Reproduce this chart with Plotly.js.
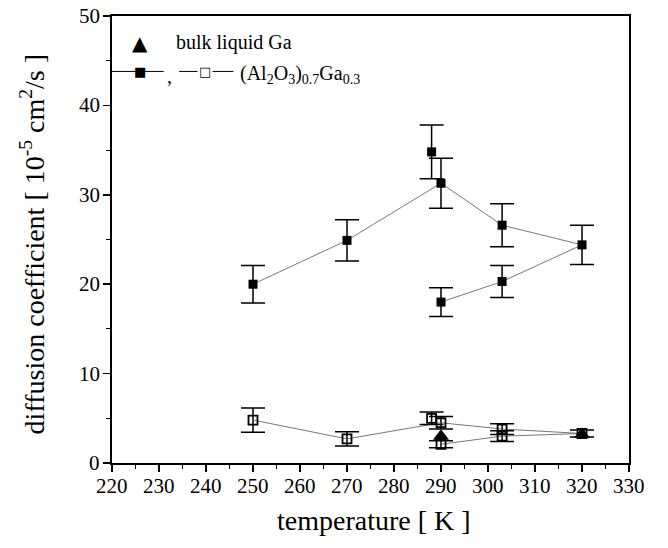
<!DOCTYPE html>
<html><head><meta charset="utf-8">
<script src="https://cdn.plot.ly/plotly-3.0.1.min.js"></script>
<style>body{margin:0;background:#fff}#chart{width:668px;height:548px}</style>
</head><body><div id="chart"></div>
<script>
// Filled squares (connected path)
const filledT = [250, 270, 290, 303, 320, 303, 290];
const filledD = [20.0, 24.9, 31.3, 26.6, 24.4, 20.3, 18.0];
const filledErr = [2.1, 2.3, 2.8, 2.4, 2.2, 1.8, 1.6];
// Filled square, isolated point
const filledIsoT = [288];
const filledIsoD = [34.8];
const filledIsoErr = [3.0];
// Open squares (connected path)
const openT = [250, 270, 290, 303, 320, 303, 290];
const openD = [4.8, 2.7, 4.5, 3.8, 3.3, 3.0, 2.1];
const openErr = [1.35, 0.8, 0.7, 0.6, 0.4, 0.6, 0.4];
// Open square, isolated point
const openIsoT = [288];
const openIsoD = [5.0];
const openIsoErr = [0.7];
// Bulk liquid Ga
const bulkT = [290, 320];
const bulkD = [3.0, 3.2];
// Axis ranges and tick labels
const xRange = [220, 330];
const yRange = [0, 50];
const xTicks = [220, 230, 240, 250, 260, 270, 280, 290, 300, 310, 320, 330];
const yTicks = [0, 10, 20, 30, 40, 50];

const serif = 'Liberation Serif';
const eb = (arr) => ({type: 'data', array: arr, visible: true, color: '#000', thickness: 1.5, width: 12});

const traces = [
  {x: filledT, y: filledD, error_y: eb(filledErr), mode: 'lines+markers', type: 'scatter',
   line: {color: '#555', width: 0.8},
   marker: {symbol: 'square', size: 9, color: '#000'}},
  {x: filledIsoT, y: filledIsoD, error_y: eb(filledIsoErr), mode: 'markers', type: 'scatter',
   marker: {symbol: 'square', size: 9, color: '#000'}},
  {x: openT, y: openD, error_y: eb(openErr), mode: 'lines+markers', type: 'scatter',
   line: {color: '#555', width: 0.8},
   marker: {symbol: 'square-open', size: 9, color: '#000', line: {width: 1.8}}},
  {x: openIsoT, y: openIsoD, error_y: eb(openIsoErr), mode: 'markers', type: 'scatter',
   marker: {symbol: 'square-open', size: 9, color: '#000', line: {width: 1.8}}},
  {x: bulkT, y: bulkD, mode: 'markers', type: 'scatter',
   marker: {symbol: 'triangle-up', size: 14, color: '#000'}}
];

const tickFont = {family: serif, size: 21, color: '#000'};
const tickAnns = [];
xTicks.forEach(v => tickAnns.push({xref: 'x', yref: 'paper', x: v, y: 0, yshift: -9,
  text: String(v), showarrow: false, xanchor: 'center', yanchor: 'top', font: tickFont}));
yTicks.forEach(v => tickAnns.push({xref: 'paper', yref: 'y', x: 0, y: v, xshift: -10,
  text: String(v), showarrow: false, xanchor: 'right', yanchor: 'middle', font: tickFont}));

const layout = {
  width: 668, height: 548,
  margin: {l: 112, r: 39, t: 16, b: 85},
  paper_bgcolor: '#fff', plot_bgcolor: '#fff',
  showlegend: false,
  font: {family: serif, color: '#000', size: 20},
  xaxis: {
    range: xRange, tickmode: 'array', tickvals: xTicks, showticklabels: false,
    showgrid: false, zeroline: false,
    showline: true, linewidth: 2, linecolor: '#000', mirror: true,
    ticks: 'outside', ticklen: 7, tickwidth: 1.5, tickcolor: '#000',
    minor: {dtick: 5, tick0: 220, ticks: 'outside', ticklen: 4, tickwidth: 1.2, tickcolor: '#000', showgrid: false}
  },
  yaxis: {
    range: yRange, tickmode: 'array', tickvals: yTicks, showticklabels: false,
    showgrid: false, zeroline: false,
    showline: true, linewidth: 2, linecolor: '#000', mirror: true,
    ticks: 'outside', ticklen: 7, tickwidth: 1.5, tickcolor: '#000',
    minor: {dtick: 5, tick0: 0, ticks: 'outside', ticklen: 4, tickwidth: 1.2, tickcolor: '#000', showgrid: false}
  },
  shapes: [
    {type: 'line', xref: 'paper', yref: 'paper', x0: 0, x1: 0.1, y0: 0.876, y1: 0.876,
     line: {color: '#000', width: 1}},
    {type: 'line', xref: 'paper', yref: 'paper', x0: 0.13, x1: 0.235, y0: 0.876, y1: 0.876,
     line: {color: '#000', width: 1}}
  ],
  annotations: tickAnns.concat([
    {xref: 'paper', yref: 'paper', x: 0.507, y: -0.128, text: 'temperature [ K ]', showarrow: false,
     font: {family: serif, size: 28, color: '#000'}, xanchor: 'center', yanchor: 'middle'},
    {xref: 'paper', yref: 'paper', x: -0.152, y: 0.49, textangle: -90,
     text: 'diffusion coefficient [ 10<sup>-5</sup> cm<sup>2</sup>/s ]', showarrow: false,
     font: {family: serif, size: 28, color: '#000'}, xanchor: 'center', yanchor: 'middle'},
    {xref: 'paper', yref: 'paper', x: 0.054, y: 0.94, text: '▲', showarrow: false,
     font: {family: 'DejaVu Sans', size: 20, color: '#000'}, xanchor: 'center', yanchor: 'middle'},
    {xref: 'paper', yref: 'paper', x: 0.12, y: 0.94, text: 'bulk liquid Ga', showarrow: false,
     font: {family: serif, size: 20, color: '#000'}, xanchor: 'left', yanchor: 'middle'},
    {xref: 'paper', yref: 'paper', x: 0.054, y: 0.876, text: '■', showarrow: false,
     font: {family: 'DejaVu Sans', size: 13, color: '#000'}, xanchor: 'center', yanchor: 'middle'},
    {xref: 'paper', yref: 'paper', x: 0.103, y: 0.866, text: ',', showarrow: false,
     font: {family: serif, size: 20, color: '#000'}, xanchor: 'left', yanchor: 'middle'},
    {xref: 'paper', yref: 'paper', x: 0.18, y: 0.876, text: '□', showarrow: false,
     font: {family: 'DejaVu Sans', size: 13, color: '#000'}, xanchor: 'center', yanchor: 'middle', bgcolor: '#fff'},
    {xref: 'paper', yref: 'paper', x: 0.243, y: 0.87, text: '(Al<sub>2</sub>O<sub>3</sub>)<sub>0.7</sub>Ga<sub>0.3</sub>', showarrow: false,
     font: {family: serif, size: 20, color: '#000'}, xanchor: 'left', yanchor: 'middle'}
  ])
};

Plotly.newPlot('chart', traces, layout, {displayModeBar: false, staticPlot: true});
</script>
</body></html>
